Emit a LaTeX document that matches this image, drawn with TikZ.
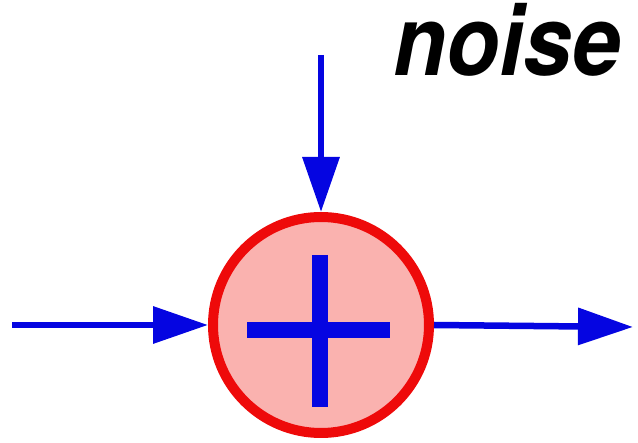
\documentclass[tikz,border=0pt]{standalone}
\usepackage{fontspec}
\setmainfont{TeX Gyre Heros}
\usetikzlibrary{arrows.meta}
\definecolor{sigred}{RGB}{238,10,10}
\definecolor{sigpink}{RGB}{250,178,175}
\definecolor{sigblue}{RGB}{5,5,225}
\tikzset{
  sumnode/.style={circle, draw=sigred, fill=sigpink, line width=10pt, minimum size=216pt, inner sep=0pt},
  sigarrow/.style={draw=sigblue, line width=6.5pt, -{Triangle[length=55pt,width=36pt]}},
  plusbar/.style={draw=sigblue, line width=16pt},
  label/.style={font=\fontsize{87}{87}\selectfont\bfseries\itshape, inner sep=0pt, anchor=base west, yscale=1.12}
}
\begin{document}
\begin{tikzpicture}[x=1pt,y=-1pt]
\useasboundingbox (0,0) rectangle (638,443);
\node[sumnode] (sum) at (321,325) {};
\coordinate (pL) at (247,330);
\coordinate (pR) at (390,330);
\coordinate (pT) at (320,255);
\coordinate (pB) at (320,407);
\draw[plusbar] (pL) -- (pR);
\draw[plusbar] (pT) -- (pB);
\coordinate (inL) at (12,325);
\coordinate (inT) at (321,55);
\coordinate (outR) at (633,327);
\draw[sigarrow] (inL) -- (sum.west);
\draw[sigarrow] (inT) -- (sum.north);
\draw[sigarrow] (sum.east) -- (outR);
\node[label] (noise) at (393,76) {noise};
\end{tikzpicture}
\end{document}
